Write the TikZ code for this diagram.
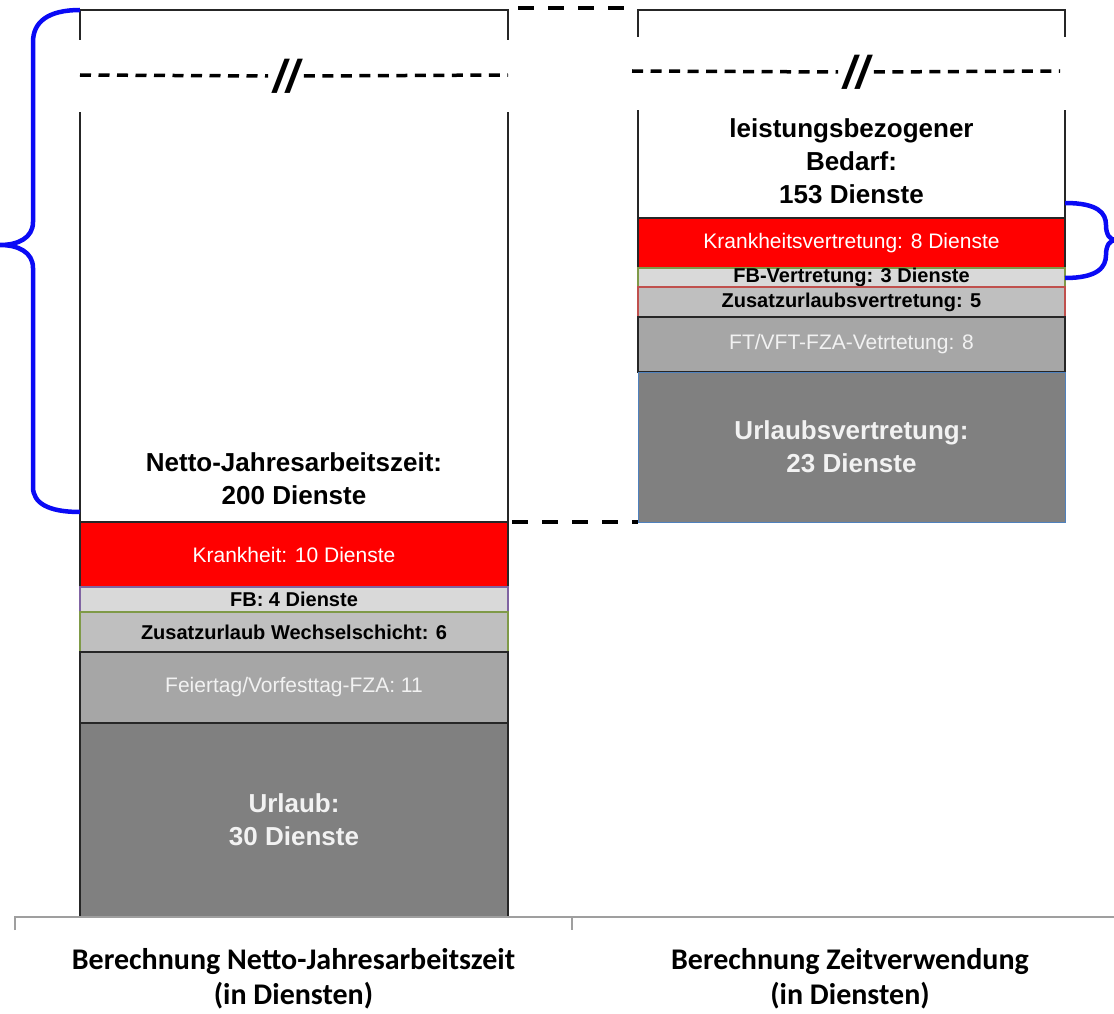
\documentclass[tikz,border=0pt]{standalone}
\usepackage{xcolor}
\usepackage{fontspec}
\setmainfont{Liberation Sans}
\newfontfamily\catfont{Carlito}
\usetikzlibrary{positioning}
\definecolor{fbgray}{HTML}{D9D9D9}
\definecolor{zugray}{HTML}{BFBFBF}
\definecolor{ftgray}{HTML}{A6A6A6}
\definecolor{urgray}{HTML}{808080}
\definecolor{lightfont}{HTML}{F2F2F2}
\definecolor{fbpurple}{HTML}{8064A2}
\definecolor{zugreen}{HTML}{7F9A48}
\definecolor{zured}{HTML}{C0504D}
\definecolor{urblue}{HTML}{4F81BD}
\definecolor{braceblue}{HTML}{0A0AF5}

\begin{document}
\begin{tikzpicture}[x=1pt,y=-1pt,every node/.style={inner sep=0pt,outer sep=0pt,align=center},
  seg/.style={draw=black!85,line width=1.5pt,font=\fontsize{21}{24}\selectfont},
  lseg/.style={seg,minimum width=428pt},
  rseg/.style={seg,minimum width=427pt},
  btxt/.style={font=\fontsize{20}{24}\selectfont\bfseries},
  bigtxt/.style={font=\fontsize{26}{33}\selectfont\bfseries},
  slashes/.style={font=\fontsize{46}{46}\selectfont\bfseries\itshape,inner xsep=5pt},
  frame/.style={black!85,line width=1.5pt},
  brk/.style={line width=3.5pt,dash pattern=on 11pt off 7.5pt},
  conn/.style={line width=4.5pt,dash pattern=on 16pt off 14pt},
  brace/.style={braceblue,line width=4.5pt},
  axis/.style={gray!75,line width=1.5pt},
  cat/.style={font=\catfont\fontsize{30}{35}\selectfont\bfseries}]
\useasboundingbox (0,0) rectangle (1114,1014);

\node[lseg,fill=red,text=white,minimum height=65pt] (kr) at (294,554.5) {Krankheit: 10 Dienste};
\node[lseg,fill=fbgray,draw=fbpurple,minimum height=25pt,btxt,below=0pt of kr] (fb) {FB: 4 Dienste};
\node[lseg,fill=zugray,draw=zugreen,minimum height=40pt,btxt,below=0pt of fb] (zu) {Zusatzurlaub Wechselschicht: 6};
\node[lseg,fill=ftgray,text=lightfont,minimum height=71pt,below=0pt of zu] (ft) {Feiertag/Vorfesttag-FZA: 11};
\node[lseg,fill=urgray,text=lightfont,minimum height=194pt,bigtxt,below=0pt of ft] (ur) {Urlaub:\\30 Dienste};
\node[bigtxt] (netto) at (294,479) {Netto-Jahresarbeitszeit:\\200 Dienste};

\node[rseg,fill=red,text=white,minimum height=50pt] (kv) at (851.5,243) {Krankheitsvertretung: 8 Dienste};
\node[rseg,fill=fbgray,draw=zugreen,minimum height=19pt,btxt,below=0pt of kv] (fbv) {FB-Vertretung: 3 Dienste};
\node[rseg,fill=zugray,draw=zured,minimum height=30pt,btxt,below=0pt of fbv] (zuv) {Zusatzurlaubsvertretung: 5};
\node[rseg,fill=ftgray,text=lightfont,minimum height=55pt,below=0pt of zuv] (ftv) {FT/VFT-FZA-Vetrtetung: 8};
\node[rseg,fill=urgray,draw=urblue,line width=1pt,text=lightfont,minimum height=150pt,bigtxt,below=0pt of ftv] (urv) {Urlaubsvertretung:\\23 Dienste};
\node[bigtxt] (bedarf) at (851.5,161) {leistungsbezogener\\Bedarf:\\153 Dienste};

\draw[frame] (80,40) -- (80,10) -- (508,10) -- (508,40);
\draw[frame] (kr.north west) -- ++(0,-410) (kr.north east) -- ++(0,-410);
\draw[frame] (638,37) -- (638,10) -- (1065,10) -- (1065,37);
\draw[frame] (kv.north west) -- ++(0,-108) (kv.north east) -- ++(0,-108);

\node[slashes] (lsl) at (286,76) {//};
\draw[brk] (80,75) -- (lsl.west) (lsl.east) -- (508,75);
\node[slashes] (rsl) at (856,72) {//};
\draw[brk] (632,71) -- (rsl.west) (rsl.east) -- (1060,71);

\coordinate (ltop) at (508,8);
\coordinate (rtop) at (638,8);
\draw[conn,dash phase=20pt] (ltop) -- (rtop);
\draw[conn,dash phase=26pt] (kr.north east) -- (urv.south west);

\draw[brace] (80,10) .. controls (48,10) and (33,22) .. (33,42) -- (33,222) .. controls (33,238) and (18,245) .. (0,245) .. controls (18,245) and (33,252) .. (33,268) -- (33,487) .. controls (33,503) and (48,512) .. (80,512);
\draw[brace] (1065,203) .. controls (1098,203) and (1106,213) .. (1106,225) .. controls (1106,235) and (1110,240) .. (1116,240) .. controls (1110,240) and (1106,245) .. (1106,255) .. controls (1106,267) and (1098,278) .. (1065,278);

\draw[axis] (15,930) -- (15,917) -- (1114,917) (572,917) -- (572,930);
\node[cat] (lcat) at (293.5,979) {Berechnung Netto-Jahresarbeitszeit\\(in Diensten)};
\node[cat] (rcat) at (850,979) {Berechnung Zeitverwendung\\(in Diensten)};
\end{tikzpicture}
\end{document}
